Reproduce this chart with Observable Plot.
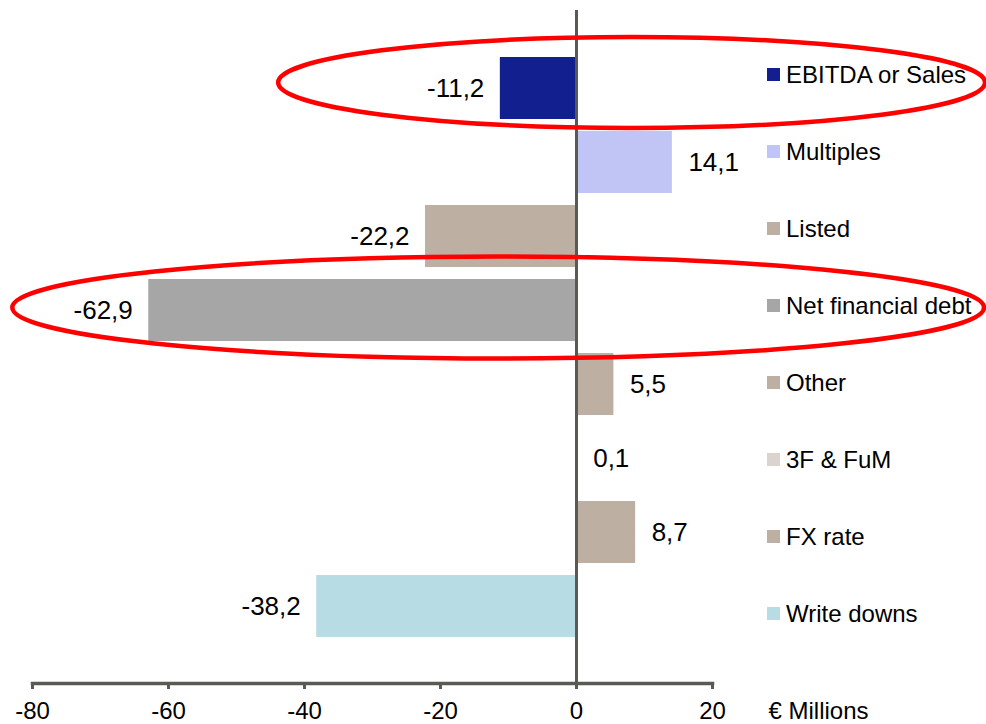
<!DOCTYPE html>
<html>
<head>
<meta charset="utf-8">
<script src="https://cdn.jsdelivr.net/npm/d3@7"></script>
<script src="https://cdn.jsdelivr.net/npm/@observablehq/plot@0.6"></script>
<style>
  html, body { margin: 0; padding: 0; background: #fff; }
  #wrap { position: relative; width: 986px; height: 724px; font-family: "Liberation Sans", Arial, sans-serif; }
  #legend { position: absolute; left: 767px; top: 36px; }
  .item { height: 77px; display: flex; align-items: center; font-size: 24px; color: #000; white-space: nowrap; }
  .sw { width: 13px; height: 13px; margin-right: 6px; flex: none; }
</style>
</head>
<body>
<div id="wrap"><div id="legend"></div></div>
<script>
// ---- data ----
const categories = ["EBITDA or Sales", "Multiples", "Listed", "Net financial debt", "Other", "3F & FuM", "FX rate", "Write downs"];
const values = [-11.2, 14.1, -22.2, -62.9, 5.5, 0.1, 8.7, -38.2];
const colors = ["#121F8F", "#C0C5F5", "#BDB0A3", "#A6A6A6", "#BDB0A3", "#DBD4CE", "#BDB0A3", "#B8DCE4"];
const xTicks = [-80, -60, -40, -20, 0, 20];
const unitLabel = "€ Millions";
// highlighted rows (red ellipses), with their horizontal extent in data units
const circled = ["EBITDA or Sales", "Net financial debt"];
const circleFrom = [-43.8, -82.9];
const circleTo = [60.15, 60.0];

const data = categories.map((c, i) => ({category: c, value: values[i], color: colors[i]}));
const fmt = v => v.toFixed(1).replace(".", ",");
const axisColor = "#5A5A52";

const plot = Plot.plot({
  width: 986,
  height: 724,
  marginLeft: 32,
  marginRight: 274,
  marginTop: 10,
  marginBottom: 41,
  style: {fontFamily: "'Liberation Sans', Arial, sans-serif", color: "#000", background: "#fff", overflow: "visible"},
  x: {domain: [-80, 20]},
  y: {domain: categories, paddingInner: 0.164, paddingOuter: 0.619, axis: null},
  color: {type: "identity"},
  marks: [
    Plot.barX(data, {x: "value", y: "category", fill: "color"}),
    Plot.ruleX([0], {stroke: axisColor, strokeWidth: 3}),
    Plot.frame({anchor: "bottom", stroke: axisColor, strokeWidth: 3.5}),
    Plot.axisX({ticks: xTicks, tickFormat: d => String(d), tickSize: 6, tickPadding: 12,
      fontSize: 24, stroke: axisColor, strokeWidth: 3, fill: "#000", label: null}),
    Plot.text(data.filter(d => d.value >= 0), {x: "value", y: "category", text: d => fmt(d.value),
      textAnchor: "start", dx: 16, fontSize: 26, fill: "#000"}),
    Plot.text(data.filter(d => d.value < 0), {x: "value", y: "category", text: d => fmt(d.value),
      textAnchor: "end", dx: -16, fontSize: 26, fill: "#000"}),
    Plot.text([unitLabel], {frameAnchor: "bottom-right", text: d => d, textAnchor: "start",
      lineAnchor: "top", dx: 56, dy: 18, fontSize: 24, fill: "#000"})
  ]
});

// red ellipse annotations
const sx = plot.scale("x"), sy = plot.scale("y");
const bw = sy.bandwidth;
const shape = [{ry: 45.5, shift: -5.5}, {ry: 51, shift: -2.5}];
const g = d3.select(plot).append("g").attr("fill", "none").attr("stroke", "#FF0000").attr("stroke-width", 4.5);
circled.forEach((c, i) => {
  const x1 = sx.apply(circleFrom[i]), x2 = sx.apply(circleTo[i]);
  g.append("ellipse")
    .attr("cx", (x1 + x2) / 2)
    .attr("cy", sy.apply(c) + bw / 2 + shape[i].shift)
    .attr("rx", (x2 - x1) / 2)
    .attr("ry", shape[i].ry);
});

document.getElementById("wrap").prepend(plot);

// legend
const legend = d3.select("#legend");
categories.forEach((c, i) => {
  const it = legend.append("div").attr("class", "item");
  it.append("div").attr("class", "sw").style("background", colors[i]);
  it.append("span").text(c);
});
</script>
</body>
</html>
